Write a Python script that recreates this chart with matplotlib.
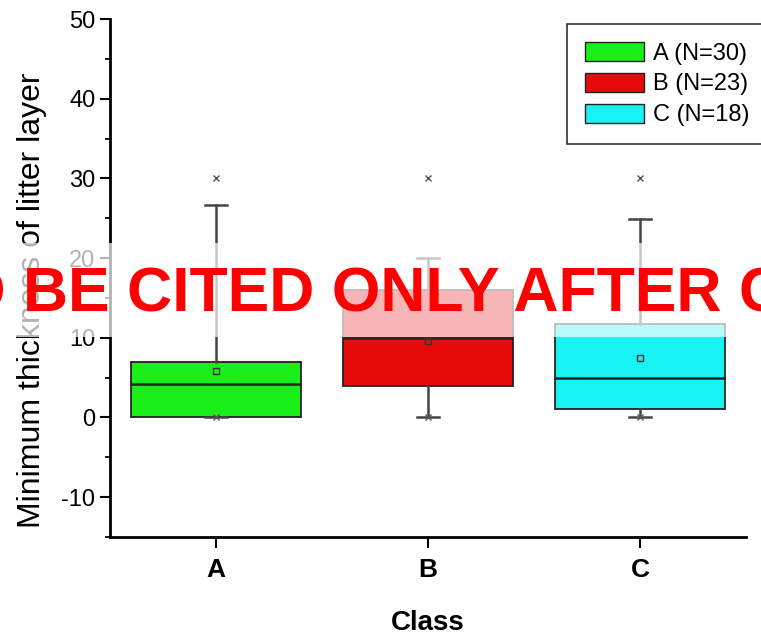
import matplotlib
matplotlib.use("Agg")
import matplotlib.pyplot as plt
from matplotlib.patches import Patch, Rectangle
from matplotlib.ticker import MultipleLocator

plt.rcParams['font.family'] = ['Liberation Sans', 'DejaVu Sans']
plt.rcParams['axes.unicode_minus'] = False

# Box plot summary
classes = ['A', 'B', 'C']
counts = [30, 23, 18]
q1 = [0, 4, 1]
med = [4.2, 10, 4.9]
q3 = [6.9, 16, 11.7]
whislo = [0, 0, 0]
whishi = [26.6, 20, 24.9]
means = [5.8, 9.6, 7.4]
mins = [0, 0, 0]
maxs = [30, 30, 30]
colors = ['#19ef19', '#e60b0b', '#18f2f2']

stats = []
for i, c in enumerate(classes):
    stats.append(dict(label=c, q1=q1[i], med=med[i], q3=q3[i],
                      whislo=whislo[i], whishi=whishi[i], mean=means[i],
                      fliers=[mins[i], maxs[i]]))

fig = plt.figure(figsize=(7.61, 6.34), dpi=100)
ax = fig.add_axes([0.1445, 0.153, 0.8358, 0.817])

bp = ax.bxp(stats, positions=[1, 2, 3], widths=0.8, patch_artist=True,
            showmeans=True, capwidths=0.1,
            boxprops=dict(edgecolor='#222222', linewidth=1.3),
            medianprops=dict(color='#222222', linewidth=1.8),
            whiskerprops=dict(color='#444444', linewidth=1.8),
            capprops=dict(color='#444444', linewidth=1.8),
            flierprops=dict(marker='x', markersize=5, markeredgecolor='#555555',
                            markeredgewidth=1),
            meanprops=dict(marker='s', markersize=5, markerfacecolor='none',
                           markeredgecolor='#333333', markeredgewidth=1))
for patch, col in zip(bp['boxes'], colors):
    patch.set_facecolor(col)

ax.set_xlim(0.5, 3.5)
ax.set_ylim(-15, 50)
ax.set_xticks([1, 2, 3])
ax.set_xticklabels(classes, fontsize=19, fontweight='bold')
ax.yaxis.set_major_locator(MultipleLocator(10))
ax.yaxis.set_minor_locator(MultipleLocator(5))
ax.set_yticks(range(-10, 51, 10))
ax.tick_params(axis='y', which='major', direction='out', length=7, width=1.5,
               labelsize=17, pad=3.5)
ax.tick_params(axis='y', which='minor', direction='out', length=3.6, width=1.3)
ax.tick_params(axis='x', which='major', direction='out', length=8, width=1.5, pad=7)
ax.tick_params(axis='x', which='minor', bottom=False)

for side in ['top', 'right']:
    ax.spines[side].set_visible(False)
for side in ['left', 'bottom']:
    ax.spines[side].set_linewidth(2)

ax.set_ylabel('Minimum thickness of litter layer', fontsize=23)
ax.yaxis.set_label_coords(-0.099, 0.458)
ax.set_xlabel('Class', fontsize=20, fontweight='bold')
ax.xaxis.set_label_coords(0.5, -0.14)

handles = [Patch(facecolor=colors[i], edgecolor='#222222', linewidth=1,
                 label=f'{classes[i]} (N={counts[i]})') for i in range(3)]
# legend frame runs past the right edge of the picture
leg = fig.legend(handles=handles, loc='upper left', mode='expand',
                 bbox_to_anchor=(567 / 761, 1 - 145 / 634, 215 / 761, 121 / 634),
                 fontsize=17, frameon=True, fancybox=False, edgecolor='black',
                 handlelength=2.5, handleheight=0.89, handletextpad=0.4,
                 labelspacing=0.34, borderpad=0.75, borderaxespad=0)
leg.get_frame().set_linewidth(1.2)

# watermark band across the figure
fig.patches.append(Rectangle((0, 0.4685), 1, 0.148, transform=fig.transFigure,
                             facecolor='white', edgecolor='none', alpha=0.7,
                             zorder=50))
fig.text(-0.1047, 0.509, 'TO BE CITED ONLY AFTER C', color='#ff0000',
         fontsize=45, fontweight='bold', ha='left', va='baseline', zorder=51)

fig.savefig('out.png', dpi=100)
